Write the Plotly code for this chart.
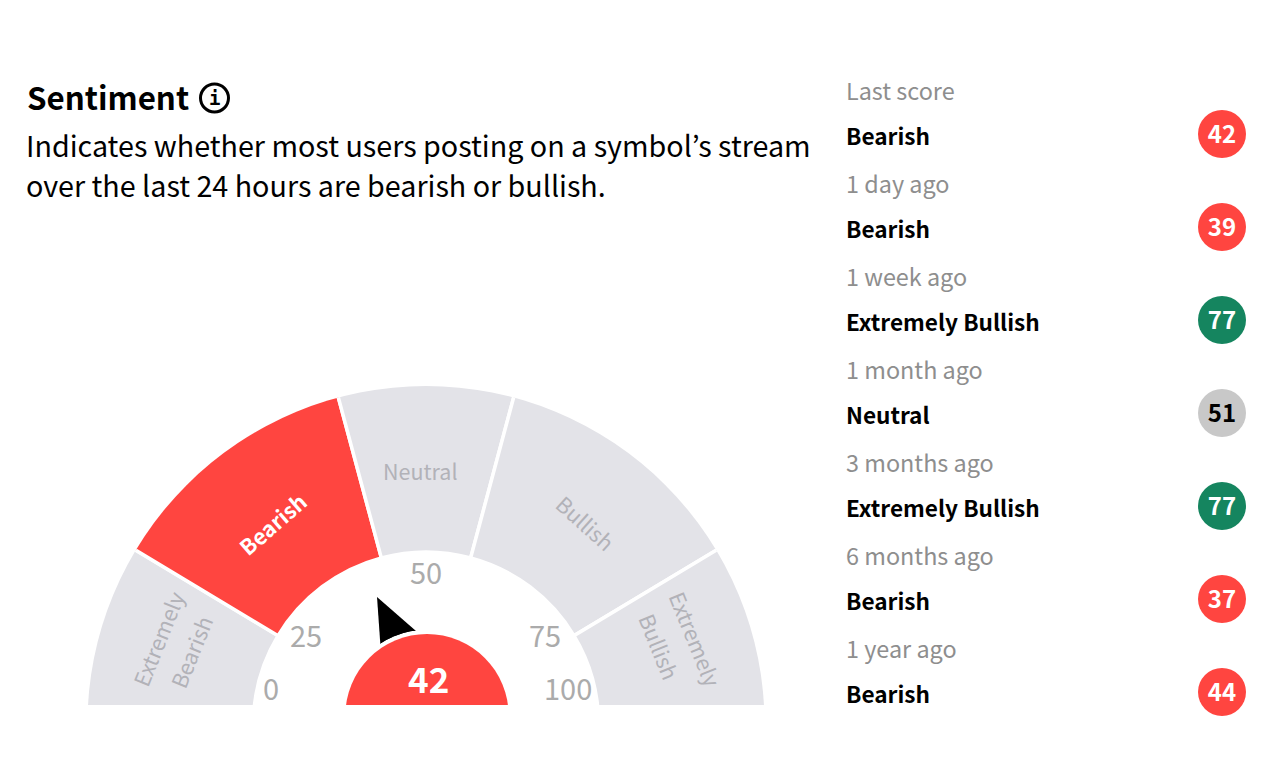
import plotly.graph_objects as go

# page body keeps an 8px margin, so the figure is that much smaller and px() shifts by it
PAGE_W, PAGE_H = 1284, 776
BODY = 8
WIDTH, HEIGHT = PAGE_W - 2 * BODY, PAGE_H - 2 * BODY
FONT = "Noto Sans CJK JP"
RED = "#FF4540"
GREY = "#E3E3E8"
GREEN = "#15855F"
BADGE_GREY = "#C8C8C8"
LABEL = "#B2B2B8"

# gauge
zone_names = ["Extremely", "Bearish", "Bearish", "Neutral", "Bullish", "Extremely", "Bullish"]
zone_theta = [164.5, 127, 90, 53, 15.5]
zone_width = [31, 44, 30, 44, 31]
zone_colors = [GREY, RED, GREY, GREY, GREY]
tick_labels = ["0", "25", "50", "75", "100"]
score = 42
needle_r = [136.7, 90.4, 83.7]
needle_theta = [111, 93.8, 122.5]

# history list
periods = ["Last score", "1 day ago", "1 week ago", "1 month ago", "3 months ago", "6 months ago", "1 year ago"]
moods = ["Bearish", "Bearish", "Extremely Bullish", "Neutral", "Extremely Bullish", "Bearish", "Bearish"]
scores = [42, 39, 77, 51, 77, 37, 44]
badge_colors = [RED, RED, GREEN, BADGE_GREY, GREEN, RED, RED]
badge_text = ["white", "white", "white", "black", "white", "white", "white"]
rows = list(range(len(periods)))


def px(x, y):
    return (x - BODY) / WIDTH, 1 - (y - BODY) / HEIGHT


def note(text, x, y, size, color, bold=False, angle=0, anchor="center", family=FONT):
    ax, ay = px(x, y)
    fig.add_annotation(
        text=f"<b>{text}</b>" if bold else text, x=ax, y=ay, xref="paper", yref="paper",
        showarrow=False, textangle=angle, xanchor=anchor, yanchor="middle",
        font={"family": family, "size": size, "color": color},
    )


fig = go.Figure()

# right-hand list, row index on y
fig.add_trace(go.Scatter(
    x=[846 - BODY] * 7, y=[r - 0.43 for r in rows], text=periods, mode="text", textposition="middle right",
    textfont={"family": FONT, "size": 23.4, "color": "#8E8E8E"}, hoverinfo="skip",
))
fig.add_trace(go.Scatter(
    x=[846 - BODY] * 7, y=[r + 0.055 for r in rows], text=[f"<b>{m}</b>" for m in moods], mode="text",
    textposition="middle right", textfont={"family": FONT, "size": 22.6, "color": "black"}, hoverinfo="skip",
))
fig.add_trace(go.Scatter(
    x=[1222 - BODY] * 7, y=rows, mode="markers",
    marker={"size": 48, "color": badge_colors, "line": {"width": 0}},
))
fig.add_trace(go.Scatter(
    x=[1222 - BODY] * 7, y=[r + 0.035 for r in rows], text=[f"<b>{s}</b>" for s in scores], mode="text",
    textposition="middle center", textfont={"family": FONT, "size": 24, "color": badge_text}, hoverinfo="skip",
))

# gauge zones and needle
fig.add_trace(go.Barpolar(
    r=[338.6] * 5, base=[172.6] * 5, theta=zone_theta, width=zone_width,
    marker={"color": zone_colors, "line": {"color": "white", "width": 3.5}}, subplot="polar",
))
fig.add_trace(go.Scatterpolar(
    r=needle_r, theta=needle_theta, mode="lines", fill="toself", fillcolor="black",
    line={"color": "black", "width": 0}, subplot="polar",
))

# hub with its white ring
fig.add_trace(go.Barpolar(
    r=[86, 81.7], theta=[90, 90], width=[180, 180], base=[0, 0],
    marker={"color": ["white", RED], "line": {"width": 0}}, subplot="polar2",
))

x0, y0 = px(87.4, 724.6)
x1, y1 = px(764.6, 386)
hx0, hy0 = px(427 - 86, 715.7)
hx1, hy1 = px(427 + 86, 715.7 - 86)
top_row_y = 134 - BODY
fig.update_layout(
    width=WIDTH, height=HEIGHT, margin={"l": 0, "r": 0, "t": 0, "b": 0},
    paper_bgcolor="white", plot_bgcolor="white", showlegend=False, barmode="overlay",
    font={"family": FONT},
    xaxis={"visible": False, "range": [0, WIDTH], "domain": [0, 1], "fixedrange": True},
    yaxis={"visible": False, "range": [(HEIGHT - top_row_y) / 93, -top_row_y / 93], "domain": [0, 1], "fixedrange": True},
    polar={
        "domain": {"x": [x0, x1], "y": [y0, y1]}, "sector": [0, 180], "bgcolor": "rgba(0,0,0,0)", "barmode": "overlay",
        "radialaxis": {"visible": False, "range": [0, 338.6]},
        "angularaxis": {"visible": False, "rotation": 0, "direction": "counterclockwise"},
    },
    polar2={
        "domain": {"x": [hx0, hx1], "y": [hy0, hy1]}, "sector": [0, 180], "bgcolor": "rgba(0,0,0,0)", "barmode": "overlay",
        "radialaxis": {"visible": False, "range": [0, 86]},
        "angularaxis": {"visible": False, "rotation": 0, "direction": "counterclockwise"},
    },
)

# the gauge is cut flat along its bottom
cx0, cy0 = px(40, 705)
cx1, cy1 = px(800, PAGE_H - BODY)
fig.add_shape(type="rect", xref="paper", yref="paper", x0=cx0, y0=cy0, x1=cx1, y1=cy1,
              fillcolor="white", line={"width": 0}, layer="above")

# info icon
ix0, iy0 = px(200.5, 84)
ix1, iy1 = px(228.5, 112)
fig.add_shape(type="circle", xref="paper", yref="paper", x0=ix0, y0=iy0, x1=ix1, y1=iy1,
              line={"color": "black", "width": 3}, layer="above")
note("i", 214.5, 98, 19, "black", bold=True, family="DejaVu Sans Mono")

note("Sentiment", 24.5, 96, 31.3, "black", bold=True, anchor="left")
note("Indicates whether most users posting on a symbol’s stream", 24, 144, 28.7, "black", anchor="left")
note("over the last 24 hours are bearish or bullish.", 24, 184, 28.7, "black", anchor="left")

note(zone_names[0], 157, 639, 21.5, LABEL, angle=-68)
note(zone_names[1], 190, 652, 21.5, LABEL, angle=-68)
note(zone_names[2], 272, 523, 21.5, "white", bold=True, angle=-41)
note(zone_names[3], 421, 470, 21.5, LABEL)
note(zone_names[4], 586, 522, 21.5, LABEL, angle=42)
note(zone_names[5], 696, 638, 21.5, LABEL, angle=68)
note(zone_names[6], 660, 646, 21.5, LABEL, angle=68)

tick_pos = [(271, 687), (306, 634), (426, 571), (545, 634), (568, 687)]
for label, (tx, ty) in zip(tick_labels, tick_pos):
    note(label, tx, ty, 29, "#ABABAB")
note(str(score), 428, 677, 35, "white", bold=True)

fig.write_html("out.html")
